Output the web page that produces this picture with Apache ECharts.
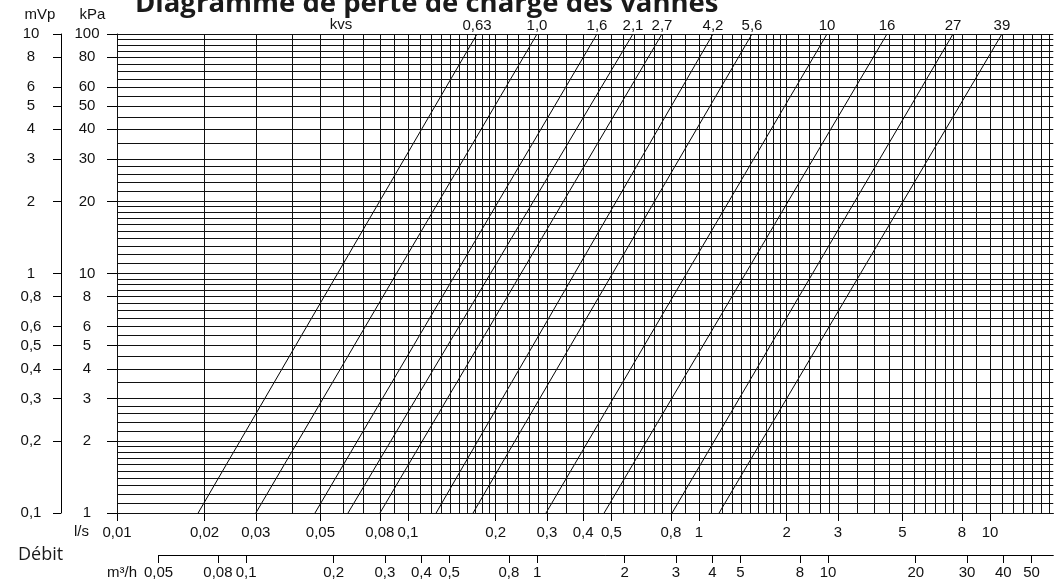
<!DOCTYPE html>
<html><head><meta charset="utf-8">
<script src="https://cdn.jsdelivr.net/npm/echarts@6/dist/echarts.min.js"></script>
<style>html,body{margin:0;padding:0;background:#fff}#c{width:1055px;height:580px}</style>
</head><body><div id="c"></div>
<script>
// kvs valve lines: flow (l/s) read where each line meets 1 kPa and 100 kPa
const kvsLabels = ['0,63','1,0','1,6','2,1','2,7','4,2','5,6','10','16','27','39'];
const flowAt1kPa = [0.0190,0.0300,0.0479,0.0622,0.0801,0.1249,0.1673,0.298,0.472,0.808,1.172];
const flowAt100kPa = [0.1727,0.2776,0.446,0.593,0.746,1.117,1.521,2.754,4.426,7.463,10.99];

// tick values
const lsTicks = [0.01,0.02,0.03,0.05,0.08,0.1,0.2,0.3,0.4,0.5,0.8,1,2,3,5,8,10];
const m3hTicks = [0.05,0.08,0.1,0.2,0.3,0.4,0.5,0.8,1,2,3,4,5,8,10,20,30,40,50];
const kPaTicks = [1,2,3,4,5,6,8,10,20,30,40,50,60,80,100];
const mVpTicks = [0.1,0.2,0.3,0.4,0.5,0.6,0.8,1,2,3,4,5,6,8,10];

// grid line values
const xGridMantissa = [1,1.1,1.2,1.3,1.4,1.5,1.6,1.7,1.8,1.9,2,2.2,2.4,2.6,2.8,3,3.5,4,4.5,5,5.5,6,6.5,7,7.5,8,9];
const xGridDecades = [0.01,0.1,1];
const xGridTail = [10,11,12,13,14,15,16];
const yGridMantissa = [1,1.1,1.2,1.3,1.4,1.5,1.6,1.7,1.8,1.9,2,2.2,2.4,2.6,2.8,3,3.5,4,4.5,5,5.5,6,6.5,7,7.5,8,8.5,9,9.5];
const yGridDecades = [1,10];
const yGridTail = [100];

const xGrid = [];
xGridDecades.forEach(d => xGridMantissa.forEach(m => xGrid.push(+(d*m).toPrecision(6))));
xGridTail.forEach(v => xGrid.push(v));
const yGrid = [];
yGridDecades.forEach(d => yGridMantissa.forEach(m => yGrid.push(+(d*m).toPrecision(6))));
yGridTail.forEach(v => yGrid.push(v));

const FONT = 'Liberation Sans';
const fmt = v => String(+(+v).toPrecision(6)).replace('.', ',');
const labelStyle = {fontFamily: FONT, fontSize: 15, color: '#111'};

const chart = echarts.init(document.getElementById('c'), null, {renderer: 'canvas'});

const series = [{
  type: 'line', data: [], xAxisIndex: 0, yAxisIndex: 0, silent: true,
  markLine: {
    silent: true, symbol: ['none', 'none'], label: {show: false}, animation: false,
    lineStyle: {color: '#111', width: 1, type: 'solid', opacity: 1},
    emphasis: {disabled: true},
    data: xGrid.map(v => ({xAxis: v})).concat(yGrid.map(v => ({yAxis: v})))
  }
}];
kvsLabels.forEach((lab, i) => {
  series.push({
    type: 'line', xAxisIndex: 0, yAxisIndex: 0, clip: false, silent: true,
    data: [[flowAt1kPa[i], 1], [flowAt100kPa[i], 100]],
    symbol: 'circle', symbolSize: 0.01, showSymbol: true,
    itemStyle: {color: '#000'},
    lineStyle: {color: '#000', width: 1},
    emphasis: {disabled: true},
    label: Object.assign({show: true, position: 'top', distance: 1,
      formatter: p => p.dataIndex === 1 ? lab : ''}, labelStyle)
  });
});

const option = {
  animation: false,
  grid: [
    {left: 117, top: 34, right: 1.7, bottom: 67},
    {left: 158.5, top: 520, right: 1.7, bottom: 24}
  ],
  xAxis: [
    {type: 'log', logBase: 10, gridIndex: 0, min: 0.01, max: 16.5,
     axisLine: {show: true, lineStyle: {color: '#000', width: 1}},
     axisTick: {show: true, customValues: lsTicks, length: 8, lineStyle: {color: '#000'}},
     axisLabel: Object.assign({customValues: lsTicks, formatter: fmt, margin: 12}, labelStyle),
     splitLine: {show: false}, minorTick: {show: false}, minorSplitLine: {show: false}},
    {type: 'log', logBase: 10, gridIndex: 1, min: 0.05, max: 59.4,
     axisLine: {show: true, lineStyle: {color: '#000', width: 1}},
     axisTick: {show: true, customValues: m3hTicks, length: 8, lineStyle: {color: '#000'}},
     axisLabel: Object.assign({customValues: m3hTicks, formatter: fmt, margin: 10}, labelStyle),
     splitLine: {show: false}}
  ],
  yAxis: [
    {type: 'log', logBase: 10, gridIndex: 0, min: 1, max: 100, position: 'left',
     axisLine: {show: true, lineStyle: {color: '#000', width: 1}},
     axisTick: {show: true, customValues: kPaTicks, length: 10, lineStyle: {color: '#000'}},
     axisLabel: Object.assign({customValues: kPaTicks, formatter: fmt, margin: 30, align: 'center'}, labelStyle),
     splitLine: {show: false}},
    {type: 'log', logBase: 10, gridIndex: 0, min: 0.1, max: 10, position: 'left', offset: 56,
     axisLine: {show: true, lineStyle: {color: '#000', width: 1}},
     axisTick: {show: true, customValues: mVpTicks, length: 8, lineStyle: {color: '#000'}},
     axisLabel: Object.assign({customValues: mVpTicks, formatter: fmt, margin: 30, align: 'center'}, labelStyle),
     splitLine: {show: false}},
    {type: 'value', gridIndex: 1, show: false}
  ],
  graphic: [
    {type: 'text', x: 135, y: 4.5, silent: true,
     style: {text: 'Diagramme de perte de charge des vannes', font: 'bold 27.5px "Open Sans"', fill: '#1a1a1a', align: 'left', verticalAlign: 'middle'}},
    {type: 'text', x: 40, y: 15, silent: true,
     style: {text: 'mVp', font: '15px "Liberation Sans"', fill: '#111', align: 'center', verticalAlign: 'middle'}},
    {type: 'text', x: 92.5, y: 15, silent: true,
     style: {text: 'kPa', font: '15px "Liberation Sans"', fill: '#111', align: 'center', verticalAlign: 'middle'}},
    {type: 'text', x: 341, y: 25, silent: true,
     style: {text: 'kvs', font: '15px "Liberation Sans"', fill: '#111', align: 'center', verticalAlign: 'middle'}},
    {type: 'text', x: 89, y: 532, silent: true,
     style: {text: 'l/s', font: '15px "Liberation Sans"', fill: '#111', align: 'right', verticalAlign: 'middle'}},
    {type: 'text', x: 18, y: 555, silent: true,
     style: {text: 'Débit', font: '18px "Open Sans"', fill: '#1a1a1a', align: 'left', verticalAlign: 'middle'}},
    {type: 'text', x: 137, y: 573, silent: true,
     style: {text: 'm³/h', font: '15px "Liberation Sans"', fill: '#111', align: 'right', verticalAlign: 'middle'}}
  ],
  series: series
};
chart.setOption(option);
</script>
</body></html>
